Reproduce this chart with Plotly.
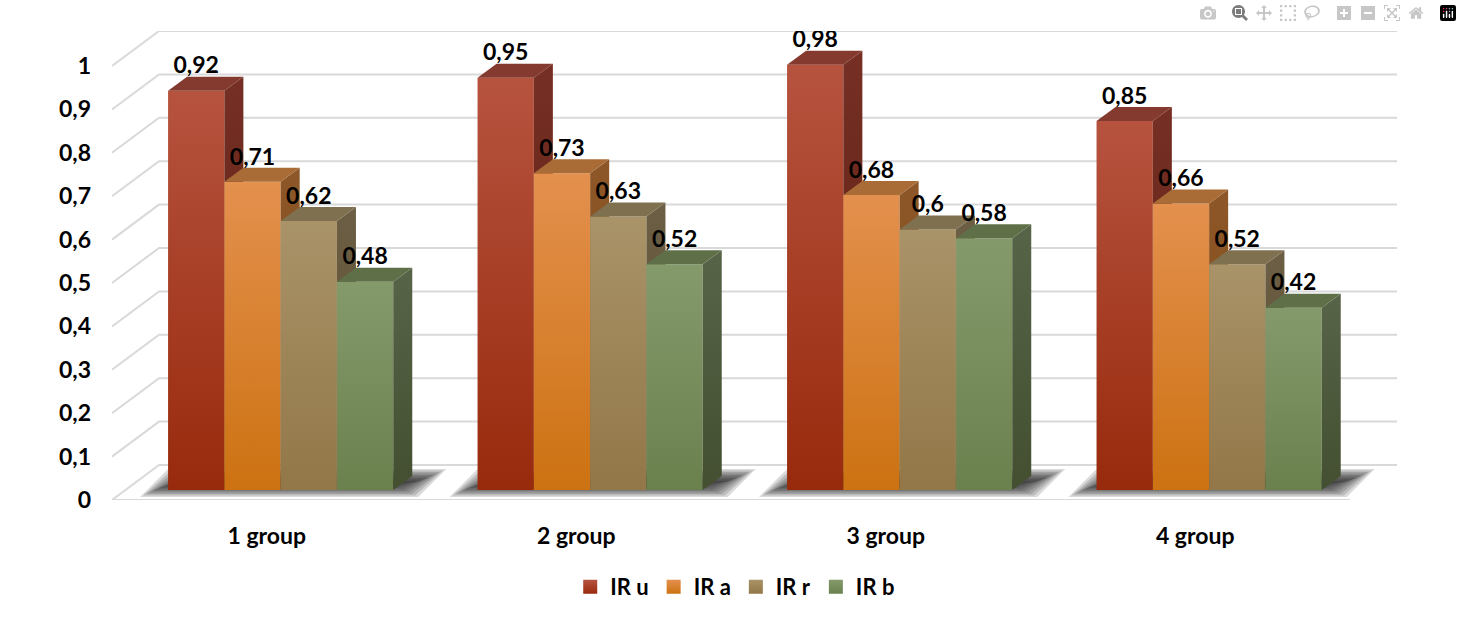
import plotly.graph_objects as go

# ----------------Data
groups = ["1 group", "2 group", "3 group", "4 group"]
ir_u = [0.92, 0.95, 0.98, 0.85]
ir_a = [0.71, 0.73, 0.68, 0.66]
ir_r = [0.62, 0.63, 0.60, 0.52]
ir_b = [0.48, 0.52, 0.58, 0.42]
y_ticks = [0, 0.1, 0.2, 0.3, 0.4, 0.5, 0.6, 0.7, 0.8, 0.9, 1]

series = [("IR u", ir_u), ("IR a", ir_a), ("IR r", ir_r), ("IR b", ir_b)]

# front top/bottom, side top/bottom, cap
COLORS = {
    "IR u": ("#B6533F", "#982A0C", "#762F25", "#5A1E0C", "#843A2E"),
    "IR a": ("#E4904E", "#CC7212", "#8E5729", "#7A480E", "#A96C36"),
    "IR r": ("#A99368", "#927748", "#6C5F45", "#5A4A2C", "#7F7050"),
    "IR b": ("#859A6B", "#6A814E", "#576448", "#434F30", "#5F7049"),
}
GRID = "#D9D9D9"

# Pseudo 3D geometry: 1 x unit = 309.25 px, 1 y unit = 434 px
WALL_DX, WALL_DY = 47 / 309.25, 35 / 434
BAR_DX, BAR_DY = 19 / 309.25, 14 / 434
BAR_W = 56.25 / 309.25
BAR_START = -98.6 / 309.25
BAR_BASE = 10 / 434
LABEL_UP = 23 / 434

fig = go.Figure()


def add_face(xs, ys, top=None, bottom=None, flat=None):
    face = dict(x=xs + xs[:1], y=ys + ys[:1], mode="lines", line=dict(width=0),
                fill="toself", showlegend=False, hoverinfo="skip")
    if flat:
        face["fillcolor"] = flat
    else:
        face["fillgradient"] = dict(type="vertical", colorscale=[[0, bottom], [1, top]])
    fig.add_trace(go.Scatter(**face))


# ----------------Walls and floor
grid_x, grid_y = [], []
x_left = -0.5
x_end = 3.5
for v in y_ticks:
    grid_x += [x_left, x_left + WALL_DX, x_end + WALL_DX, None]
    grid_y += [v, v + WALL_DY, v + WALL_DY, None]
grid_x += [x_left, x_end]
grid_y += [0, 0]
fig.add_trace(go.Scatter(x=grid_x, y=grid_y, mode="lines", line=dict(color=GRID, width=2),
                         showlegend=False, hoverinfo="skip"))

# ----------------Soft shadows on the floor
for i in range(len(groups)):
    left = i + BAR_START
    for k in range(9):
        inset_x = k * 3.2 / 309.25
        inset_y = k * 1.5 / 434
        x0 = left - 28 / 309.25 + inset_x
        x1 = left + 250 / 309.25 - inset_x
        y0 = 3 / 434 + inset_y
        y1 = 31 / 434 - inset_y
        skew = 28 / 309.25
        add_face([x0, x1, x1 + skew, x0 + skew], [y0, y0, y1, y1], flat="rgba(25,25,25,0.16)")

# ----------------Bars, left to right so nearer faces overlap
label_x, label_y, label_text = [], [], []
for i in range(len(groups)):
    for s, (name, values) in enumerate(series):
        front_top, front_bottom, side_top, side_bottom, cap = COLORS[name]
        x0 = i + BAR_START + s * BAR_W
        x1 = x0 + BAR_W
        top = BAR_BASE + values[i]
        add_face([x0, x1, x1, x0], [BAR_BASE, BAR_BASE, top, top], front_top, front_bottom)
        add_face([x1, x1 + BAR_DX, x1 + BAR_DX, x1],
                 [BAR_BASE, BAR_BASE + BAR_DY, top + BAR_DY, top], side_top, side_bottom)
        add_face([x0, x1, x1 + BAR_DX, x0 + BAR_DX], [top, top, top + BAR_DY, top + BAR_DY], flat=cap)
        label_x.append((x0 + x1) / 2)
        label_y.append(top + LABEL_UP)
        label_text.append(f"{values[i]:g}".replace(".", ","))

fig.add_trace(go.Scatter(x=label_x, y=label_y, mode="text", text=label_text,
                         textposition="middle center",
                         textfont=dict(family="Lato", size=23, color="#000000", weight="bold"),
                         showlegend=False, hoverinfo="skip"))

# ----------------Legend entries
for name, values in series:
    fig.add_trace(go.Scatter(x=[None], y=[None], mode="markers", name=name,
                             marker=dict(symbol="square", size=14, color=COLORS[name][0],
                                         gradient=dict(type="vertical", color=COLORS[name][1]))))

fig.update_layout(
    width=1462,
    height=620,
    margin=dict(l=112, r=65, t=31, b=120, autoexpand=False),
    paper_bgcolor="white",
    plot_bgcolor="white",
    separators=", ",
    font=dict(family="Lato", size=23, color="#000000", weight="bold"),
    xaxis=dict(range=[x_left, x_end + WALL_DX], tickvals=list(range(len(groups))), ticktext=groups,
               showgrid=False, zeroline=False, showline=False, ticks="", ticklabelstandoff=20,
               tickfont=dict(family="Lato", size=23, weight="bold")),
    yaxis=dict(range=[0, 1 + WALL_DY], tickvals=y_ticks, tickformat="~g",
               showgrid=False, zeroline=False, showline=False, ticks="", ticklabelstandoff=20,
               tickfont=dict(family="Lato", size=23, weight="bold")),
    legend=dict(orientation="h", x=0.485, xanchor="center", y=-0.1855, yanchor="middle",
                font=dict(family="Lato", size=22, weight="bold"), bgcolor="rgba(0,0,0,0)"),
)

fig.write_html("out.html", post_script="document.body.style.margin='0';")
